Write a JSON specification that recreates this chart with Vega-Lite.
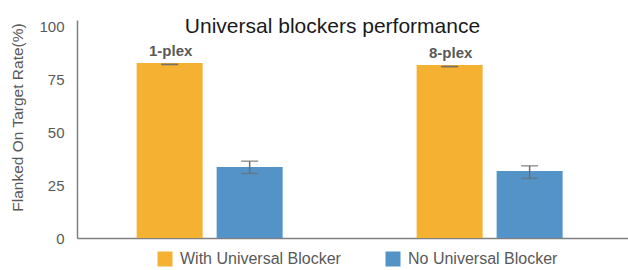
{
  "$schema": "https://vega.github.io/schema/vega-lite/v6.json",
  "width": 551,
  "height": 218,
  "autosize": {"type": "none"},
  "padding": {"left": 77, "top": 20, "right": 0, "bottom": 32},
  "background": "white",
  "config": {
    "view": {"stroke": null},
    "font": "Liberation Sans"
  },
  "title": {
    "text": "Universal blockers performance",
    "fontSize": 21,
    "font": "Liberation Sans",
    "fontWeight": "normal",
    "color": "#1a1a1a",
    "anchor": "middle",
    "frame": "group",
    "dx": -20,
    "offset": -35,
    "baseline": "alphabetic"
  },
  "data": {
    "values": [
      {"group": "1-plex", "series": "With Universal Blocker", "value": 82.7, "lo": 81.9, "hi": 82.1, "label": "1-plex"},
      {"group": "1-plex", "series": "No Universal Blocker", "value": 33.6, "lo": 30.5, "hi": 36.3, "label": ""},
      {"group": "8-plex", "series": "With Universal Blocker", "value": 81.7, "lo": 80.9, "hi": 81.1, "label": "8-plex"},
      {"group": "8-plex", "series": "No Universal Blocker", "value": 31.6, "lo": 28.2, "hi": 34.1, "label": ""}
    ]
  },
  "encoding": {
    "x": {
      "field": "group",
      "type": "nominal",
      "sort": ["1-plex", "8-plex"],
      "scale": {"paddingInner": 0.1, "paddingOuter": 0.034, "align": 0.35},
      "axis": {"title": null, "labels": false, "ticks": false, "domainColor": "#808080", "domainWidth": 1.5}
    },
    "xOffset": {
      "field": "series",
      "type": "nominal",
      "scale": {"domain": ["With Universal Blocker", "No Universal Blocker"], "paddingInner": 0.175, "paddingOuter": 0.6625}
    }
  },
  "layer": [
    {
      "mark": {"type": "bar"},
      "encoding": {
        "y": {
          "field": "value",
          "type": "quantitative",
          "scale": {"domain": [0, 103], "nice": false},
          "axis": {
            "values": [0, 25, 50, 75, 100],
            "grid": false,
            "ticks": false,
            "domainColor": "#808080",
            "domainWidth": 1.5,
            "labelFont": "Liberation Sans",
            "labelFontSize": 15,
            "labelColor": "#595959",
            "labelPadding": 13,
            "title": "Flanked On Target Rate(%)",
            "titleFont": "Liberation Sans",
            "titleFontSize": 15.5,
            "titleFontWeight": "normal",
            "titleColor": "#595959",
            "titleX": -60,
            "titleY": 97,
            "titleBaseline": "middle",
            "titleAngle": -90,
            "titleAlign": "center"
          }
        },
        "color": {
          "field": "series",
          "type": "nominal",
          "scale": {"domain": ["With Universal Blocker", "No Universal Blocker"], "range": ["#F4B132", "#5393C7"]},
          "legend": {
            "title": null,
            "orient": "none",
            "legendX": 80,
            "legendY": 231,
            "direction": "horizontal",
            "columns": 2,
            "padding": 0,
            "symbolType": "square",
            "symbolSize": 225,
            "symbolStrokeWidth": 0,
            "labelFont": "Liberation Sans",
            "labelFontSize": 16,
            "labelColor": "#595959",
            "labelOffset": 7,
            "labelLimit": 400,
            "columnPadding": 44
          }
        }
      }
    },
    {
      "mark": {"type": "rule", "color": "#6d6d6d", "strokeWidth": 1.5},
      "encoding": {
        "y": {"field": "lo", "type": "quantitative"},
        "y2": {"field": "hi"}
      }
    },
    {
      "mark": {"type": "tick", "color": "#6d6d6d", "thickness": 1.5, "size": 17},
      "encoding": {"y": {"field": "lo", "type": "quantitative"}}
    },
    {
      "mark": {"type": "tick", "color": "#6d6d6d", "thickness": 1.5, "size": 17},
      "encoding": {"y": {"field": "hi", "type": "quantitative"}}
    },
    {
      "mark": {"type": "text", "font": "Liberation Sans", "fontSize": 15, "fontWeight": "bold", "color": "#595959", "baseline": "alphabetic", "dy": -7, "dx": 1},
      "encoding": {
        "y": {"field": "value", "type": "quantitative"},
        "text": {"field": "label"}
      }
    }
  ]
}
